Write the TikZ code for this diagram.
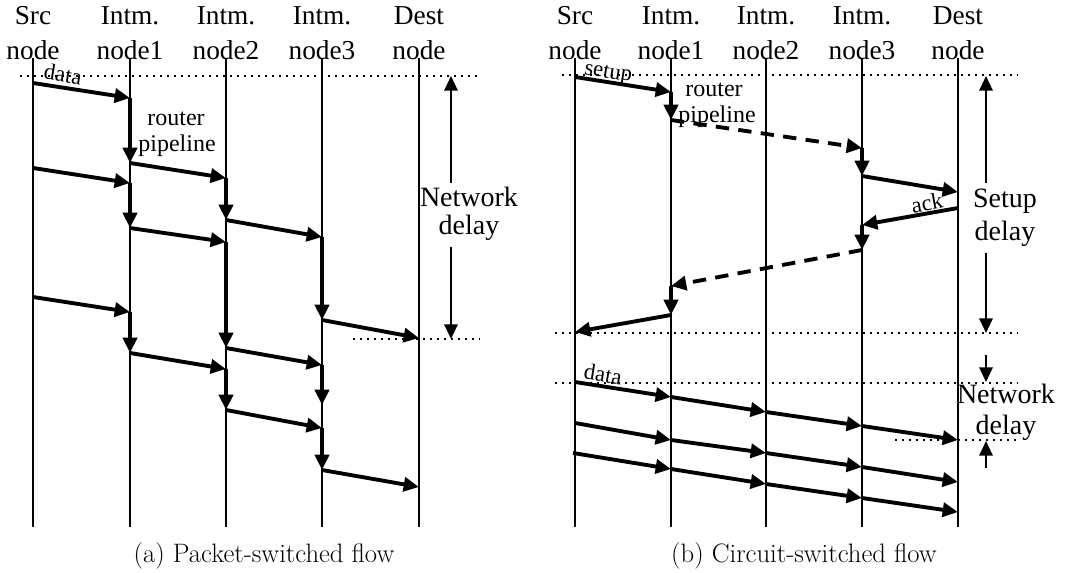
\documentclass[tikz,border=0pt]{standalone}
\usepackage{fontspec}
\newfontfamily\tms{Liberation Serif}
\usetikzlibrary{arrows.meta}
\tikzset{
  lifeline/.style={line width=1.1pt},
  msg/.style={line width=2.9pt, -{Triangle[length=11.5pt,width=10.5pt]}},
  dmsg/.style={msg, dash pattern=on 10pt off 7pt},
  delayspan/.style={line width=1.6pt, -{Triangle[length=11pt,width=10pt]}},
  guide/.style={line width=1.6pt, dash pattern=on 1.6pt off 3.65pt},
  head/.style={font=\tms\fontsize{20.5}{24}\selectfont, anchor=base, inner sep=0pt},
  biglbl/.style={font=\tms\fontsize{21}{25}\selectfont, anchor=base, inner sep=0pt},
  midlbl/.style={font=\tms\fontsize{18}{22}\selectfont, anchor=base, inner sep=0pt},
  smalllbl/.style={font=\tms\fontsize{17}{20}\selectfont, inner sep=0pt},
  subcap/.style={font=\fontsize{20}{24}\selectfont, anchor=base, inner sep=0pt}
}
\begin{document}
\begin{tikzpicture}[x=0.75pt,y=-0.75pt]
\fill[white] (0,0) rectangle (1067,573);
\useasboundingbox (0,0) rectangle (1067,573);

% node headers and lifelines of both panels
\foreach \nm/\x/\ta/\tb in {aS/33/Src/node, aI/130/Intm./node1, aJ/226/Intm./node2,
    aK/322/Intm./node3, aD/419/Dest/node,
    bS/575/Src/node, bI/671/Intm./node1, bJ/766/Intm./node2,
    bK/862/Intm./node3, bD/958/Dest/node}{
  \node[head] (\nm top) at (\x,25) {\ta};
  \node[head] (\nm bot) at (\x,60) {\tb};
  \coordinate (\nm t) at (\x,58);
  \coordinate (\nm b) at (\x,527);
  \draw[lifeline] (\nm t) -- (\nm b);
}

% reference levels
\coordinate (gA0) at (20,76);   \coordinate (gA1) at (480,76);
\coordinate (gA2) at (353,339); \coordinate (gA3) at (480,339);
\coordinate (gB0) at (562,75);  \coordinate (gB1) at (1018,75);
\coordinate (gB2) at (555,333); \coordinate (gB3) at (1018,333);
\coordinate (gB4) at (555,383); \coordinate (gB5) at (1018,383);
\coordinate (gB6) at (895,440); \coordinate (gB7) at (1018,440);
\foreach \u/\v in {gA0/gA1, gA2/gA3, gB0/gB1, gB2/gB3, gB4/gB5, gB6/gB7}
  \draw[guide] (\u) -- (\v);

% (a) packet-switched: three packets hop by hop
\coordinate (A0) at (33,83);   \coordinate (A1) at (130,98);
\coordinate (A2) at (130,163); \coordinate (A3) at (226,178);
\coordinate (A4) at (226,220); \coordinate (A5) at (322,237);
\coordinate (A6) at (322,320); \coordinate (A7) at (419,338);
\coordinate (B0) at (33,168);  \coordinate (B1) at (130,183);
\coordinate (B2) at (130,228); \coordinate (B3) at (226,242);
\coordinate (B4) at (226,348); \coordinate (B5) at (322,365);
\coordinate (B6) at (322,405);
\coordinate (C0) at (33,297);  \coordinate (C1) at (130,312);
\coordinate (C2) at (130,353); \coordinate (C3) at (226,369);
\coordinate (C4) at (226,410); \coordinate (C5) at (322,428);
\coordinate (C6) at (322,470); \coordinate (C7) at (419,487);
\foreach \u/\v in {A0/A1,A1/A2,A2/A3,A3/A4,A4/A5,A5/A6,A6/A7,
    B0/B1,B1/B2,B2/B3,B3/B4,B4/B5,B5/B6,
    C0/C1,C1/C2,C2/C3,C3/C4,C4/C5,C5/C6,C6/C7}
  \draw[msg] (\u) -- (\v);

\node[smalllbl, rotate=-9] (dataA) at (63,74) {data};
\node[midlbl] (rtA1) at (176,126) {router};
\node[midlbl] (rtA2) at (177,152) {pipeline};

% network delay span, panel (a)
\coordinate (N0) at (451,183); \coordinate (N1) at (451,76);
\coordinate (N2) at (451,247); \coordinate (N3) at (451,339);
\draw[delayspan] (N0) -- (N1);
\draw[delayspan] (N2) -- (N3);
\node[biglbl] (ndA1) at (469,207) {Network};
\node[biglbl] (ndA2) at (469,235) {delay};

% (b) circuit-switched: setup, ack, then streamed data
\coordinate (S0) at (575,77);  \coordinate (S1) at (671,92);
\coordinate (S2) at (671,120); \coordinate (S3) at (862,148);
\coordinate (S4) at (862,176); \coordinate (S5) at (958,192);
\coordinate (K0) at (958,208); \coordinate (K1) at (862,225);
\coordinate (K2) at (862,250); \coordinate (K3) at (671,286);
\coordinate (K4) at (671,315); \coordinate (K5) at (575,332);
\foreach \u/\v in {S0/S1,S1/S2,S3/S4,S4/S5,K0/K1,K1/K2,K3/K4,K4/K5}
  \draw[msg] (\u) -- (\v);
\draw[dmsg] (S2) -- (S3);
\draw[dmsg] (K2) -- (K3);

\coordinate (D10) at (575,382); \coordinate (D11) at (671,397);
\coordinate (D12) at (766,412); \coordinate (D13) at (862,426);
\coordinate (D14) at (958,440);
\coordinate (D20) at (575,423); \coordinate (D21) at (671,440);
\coordinate (D22) at (766,453); \coordinate (D23) at (862,467);
\coordinate (D24) at (958,482);
\coordinate (D30) at (573,453); \coordinate (D31) at (671,469);
\coordinate (D32) at (766,484); \coordinate (D33) at (862,498);
\coordinate (D34) at (958,512);
\foreach \r in {1,2,3}{
  \draw[msg] (D\r0) -- (D\r1);
  \draw[msg] (D\r1) -- (D\r2);
  \draw[msg] (D\r2) -- (D\r3);
  \draw[msg] (D\r3) -- (D\r4);
}

\node[smalllbl, rotate=-9] (setupB) at (608,74) {setup};
\node[smalllbl, rotate=10] (ackB) at (927,203) {ack};
\node[smalllbl, rotate=-9] (dataB) at (603,374) {data};
\node[midlbl] (rtB1) at (714,97) {router};
\node[midlbl] (rtB2) at (717,123) {pipeline};

% setup and network delay spans, panel (b)
\coordinate (U0) at (986,183); \coordinate (U1) at (986,76);
\coordinate (U2) at (986,253); \coordinate (U3) at (986,333);
\coordinate (V0) at (986,355); \coordinate (V1) at (986,382);
\coordinate (V2) at (986,468); \coordinate (V3) at (986,441);
\draw[delayspan] (U0) -- (U1);
\draw[delayspan] (U2) -- (U3);
\draw[delayspan] (V0) -- (V1);
\draw[delayspan] (V2) -- (V3);
\node[biglbl] (sdB1) at (1005,208) {Setup};
\node[biglbl] (sdB2) at (1005,241) {delay};
\node[biglbl] (ndB1) at (1006,403) {Network};
\node[biglbl] (ndB2) at (1006,435) {delay};

% sub-captions
\node[subcap] (capA) at (264,562) {(a) Packet-switched flow};
\node[subcap] (capB) at (804,562) {(b) Circuit-switched flow};
\end{tikzpicture}
\end{document}
